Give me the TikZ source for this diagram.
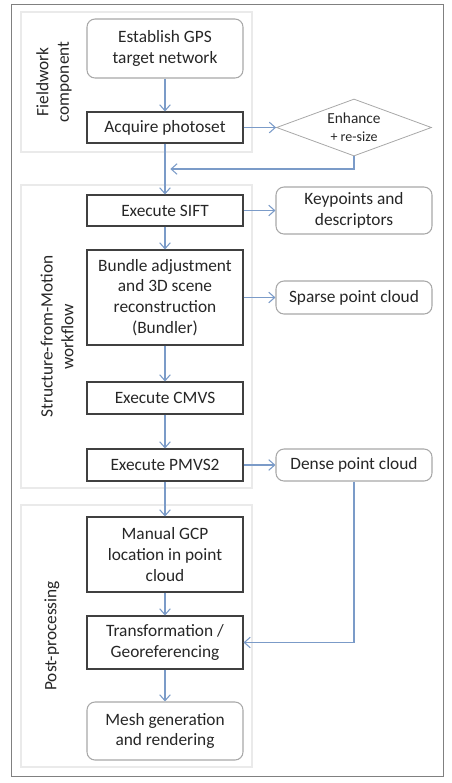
\documentclass[tikz,border=0pt]{standalone}
\usepackage{fontspec}
\setmainfont{Carlito}
\usetikzlibrary{positioning,shapes.geometric,arrows.meta,calc}
\definecolor{flowblue}{HTML}{7B9BC8}
\definecolor{boxgray}{HTML}{404040}
\definecolor{softgray}{HTML}{A8A8A8}
\definecolor{panelgray}{HTML}{EAEAEA}
\definecolor{inkgray}{HTML}{262626}
\begin{document}
\begin{tikzpicture}[
  font=\fontsize{13pt}{15.5pt}\selectfont, text=inkgray,
  block/.style={rectangle, draw=boxgray, line width=0.8pt, minimum width=117pt, minimum height=23.25pt, align=center},
  roundblock/.style={block, draw=softgray, rounded corners=6pt},
  decision/.style={diamond, draw=softgray, line width=0.6pt, aspect=2.7, minimum width=116.25pt, minimum height=42.75pt, inner sep=0pt, align=center, font=\fontsize{11.5pt}{13.5pt}\selectfont},
  panel/.style={draw=panelgray, line width=0.8pt},
  sidelabel/.style={rotate=90, align=center},
  flow/.style={draw=flowblue, line width=0.8pt, -{Straight Barb[length=4.5pt,width=8pt]}},
  node distance=60pt
]
\useasboundingbox (0,0) rectangle (339pt,-587.25pt);
\draw[gray, line width=0.7pt] (8.25pt,-3.4pt) rectangle (332.25pt,-582pt);
\draw[panel] (15.75pt,-9pt) rectangle (189pt,-114pt);
\draw[panel] (15.75pt,-138.75pt) rectangle (189pt,-366pt);
\draw[panel] (15.75pt,-378.75pt) rectangle (189pt,-575.25pt);

\node[roundblock, minimum height=44.25pt] (est) at (123.75pt,-36.375pt) {Establish GPS\\target network};
\node[block, below of=est, node distance=59.25pt] (acq) {Acquire photoset};
\node[decision, right of=acq, node distance=141.75pt] (enh) {Enhance\\{\fontsize{10.5pt}{13.5pt}\selectfont + re-size}};
\node[block, below of=acq, node distance=62.25pt] (sift) {Execute SIFT};
\node[roundblock, minimum height=35.25pt, right of=sift, node distance=141.75pt] (keyp) {Keypoints and\\descriptors};
\node[block, minimum height=71.25pt, below of=sift, node distance=65.25pt] (bund) {Bundle adjustment\\and 3D scene\\reconstruction\\(Bundler)};
\node[roundblock, minimum height=24.75pt, right of=bund, node distance=141.75pt] (sparse) {Sparse point cloud};
\node[block, minimum height=24pt, below of=bund, node distance=75.375pt] (cmvs) {Execute CMVS};
\node[block, minimum height=24pt, below of=cmvs, node distance=50.25pt] (pmvs) {Execute PMVS2};
\node[roundblock, minimum height=24pt, right of=pmvs, node distance=141.75pt] (dense) {Dense point cloud};
\node[block, minimum height=56.25pt, below of=pmvs, node distance=67.125pt] (gcp) {Manual GCP\\location in point\\cloud};
\node[block, minimum height=39.75pt, below of=gcp, node distance=66pt] (trans) {Transformation /\\Georeferencing};
\node[roundblock, minimum height=43.5pt, below of=trans, node distance=66.375pt] (mesh) {Mesh generation\\and rendering};

\node[sidelabel] (fieldlab) at (40.5pt,-61.5pt) {Fieldwork\\component};
\node[sidelabel] (sfmlab) at (42.75pt,-252.5pt) {Structure-from-Motion\\workflow};
\node[sidelabel] (postlab) at (39pt,-476.9pt) {Post-processing};

\coordinate (merge) at ($(acq.south)!0.5!(sift.north)+(4pt,0)$);
\draw[flow] (est) -- (acq);
\draw[flow] (acq) -- (sift);
\draw[flow] (acq) -- (enh);
\draw[flow] (enh.south) |- (merge);
\draw[flow] (sift) -- (keyp);
\draw[flow] (sift) -- (bund);
\draw[flow] (bund) -- (sparse);
\draw[flow] (bund) -- (cmvs);
\draw[flow] (cmvs) -- (pmvs);
\draw[flow] (pmvs) -- (dense);
\draw[flow] (pmvs) -- (gcp);
\draw[flow] (gcp) -- (trans);
\draw[flow] (trans) -- (mesh);
\draw[flow] (dense) |- (trans);
\end{tikzpicture}
\end{document}
